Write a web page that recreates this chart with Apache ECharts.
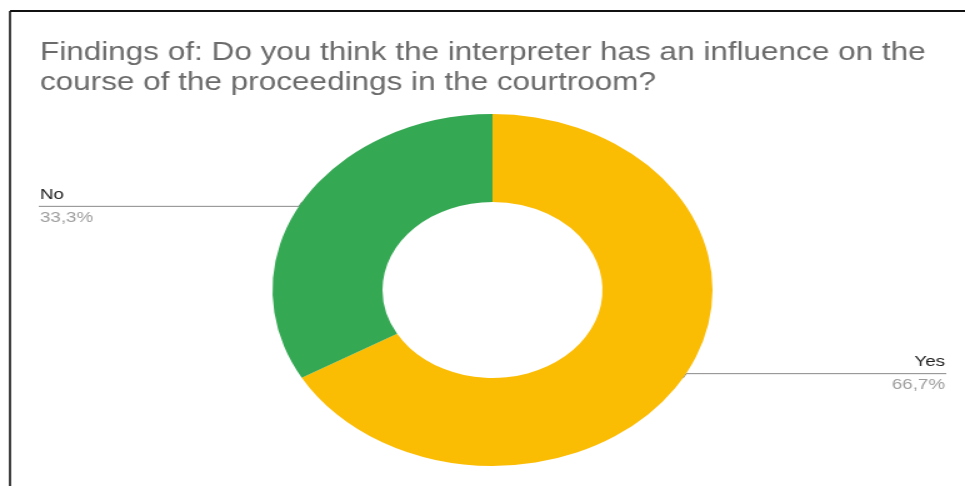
<!DOCTYPE html>
<html>
<head>
<meta charset="utf-8">
<script src="https://cdn.jsdelivr.net/npm/echarts@6/dist/echarts.min.js"></script>
<style>
  html, body { margin: 0; padding: 0; background: #fff; overflow: hidden; }
  /* chart is laid out at 772px and widened to the 965px frame */
  #chart { width: 772px; height: 486px; transform: scaleX(1.25); transform-origin: 0 0; }
</style>
</head>
<body>
<div id="chart"></div>
<script>
const titleText = 'Findings of: Do you think the interpreter has an influence on the\ncourse of the proceedings in the courtroom?';
const categories = ['Yes', 'No'];
const shares = [66.7, 33.3];
const sliceColors = ['#FBBC04', '#34A853'];

const fmtPct = v => v.toFixed(1).replace('.', ',') + '%';

const chart = echarts.init(document.getElementById('chart'), null, { renderer: 'canvas' });

const labelBoxWidth = 50;
const data = categories.map((name, i) => {
  const leftSide = i === 1;
  return {
    name: name,
    value: shares[i],
    itemStyle: { color: sliceColors[i] },
    label: {
      edgeDistance: leftSide ? 32 : 16,
      distanceToLabelLine: -(labelBoxWidth + 1),
      rich: {
        n: { fontSize: 15, color: '#212121', lineHeight: 23, width: labelBoxWidth, align: leftSide ? 'left' : 'right', fontFamily: 'Liberation Sans, Arial, sans-serif' },
        p: { fontSize: 15, color: '#9e9e9e', lineHeight: 23, width: labelBoxWidth, align: leftSide ? 'left' : 'right', fontFamily: 'Liberation Sans, Arial, sans-serif' }
      }
    }
  };
});

chart.setOption({
  backgroundColor: '#fff',
  animation: false,
  title: {
    text: titleText,
    left: 32,
    top: 38,
    padding: 0,
    textStyle: {
      fontFamily: 'Liberation Sans, Arial, sans-serif',
      fontSize: 25.2,
      fontWeight: 'normal',
      color: '#6b6b6b',
      lineHeight: 30
    }
  },
  graphic: [
    { type: 'line', shape: { x1: 8, y1: 11, x2: 772, y2: 11 }, style: { stroke: '#111', lineWidth: 2 } },
    { type: 'line', shape: { x1: 8, y1: 11, x2: 8, y2: 486 }, style: { stroke: '#111', lineWidth: 1.6 } }
  ],
  series: [{
    type: 'pie',
    center: [394, 290],
    radius: [88, 176],
    startAngle: 90,
    clockwise: true,
    silent: true,
    data: data,
    label: {
      show: true,
      position: 'outside',
      alignTo: 'edge',
      formatter: p => '{n|' + p.name + '}\n{p|' + fmtPct(p.value) + '}'
    },
    labelLine: {
      show: true,
      length: -9,
      length2: 0,
      minTurnAngle: 0,
      smooth: false,
      lineStyle: { color: '#8a8a8a', width: 1 }
    }
  }]
});
</script>
</body>
</html>
